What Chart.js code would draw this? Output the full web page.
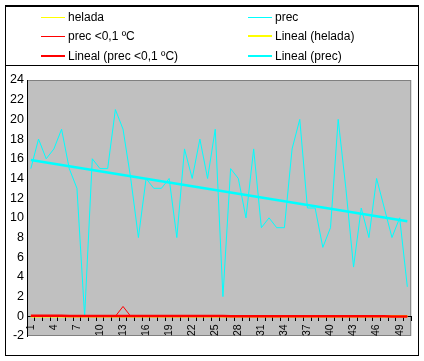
<!DOCTYPE html>
<html><head><meta charset="utf-8">
<script src="https://cdn.jsdelivr.net/npm/chart.js@4.4.1/dist/chart.umd.min.js"></script>
<style>html,body{margin:0;padding:0;background:#fff;}canvas{display:block;}</style>
</head><body>
<canvas id="c" width="424" height="361"></canvas>
<script>
// ---- data ----
const categories = [1,2,3,4,5,6,7,8,9,10,11,12,13,14,15,16,17,18,19,20,21,22,23,24,25,26,27,28,29,30,31,32,33,34,35,36,37,38,39,40,41,42,43,44,45,46,47,48,49,50];
const helada = [0,0,0,0,0,0,0,0,0,0,0,0,0,0,0,0,0,0,0,0,0,0,0,0,0,0,0,0,0,0,0,0,0,0,0,0,0,0,0,0,0,0,0,0,0,0,0,0,0,0];
const prec = [15,18,16,17,19,15,13,0,16,15,15,21,19,14,8,14,13,13,14,8,17,14,18,14,19,2,15,14,10,17,9,10,9,9,17,20,11,11,7,9,20,13,5,11,8,14,11,8,10,3];
const precBajo01 = [0,0,0,0,0,0,0,0,0,0,0,0,1,0,0,0,0,0,0,0,0,0,0,0,0,0,0,0,0,0,0,0,0,0,0,0,0,0,0,0,0,0,0,0,0,0,0,0,0,0];
const yMin = -2, yMax = 24, yStep = 2;
const xLabelEvery = 3;
const seriesNames = ['helada','prec','prec <0,1 ºC','Lineal (helada)','Lineal (prec <0,1 ºC)','Lineal (prec)'];

// Excel-style linear trendline (least squares)
function linearTrend(v){
  const n=v.length; let sx=0,sy=0,sxx=0,sxy=0;
  for(let i=0;i<n;i++){const x=i+1;sx+=x;sy+=v[i];sxx+=x*x;sxy+=x*v[i];}
  const b=(n*sxy-sx*sy)/(n*sxx-sx*sx), a=(sy-b*sx)/n;
  return v.map((_,i)=>a+b*(i+1));
}

const FONT='"Liberation Sans", Arial, sans-serif';

const bgPlugin={
  id:'bg',
  beforeDraw(chart){
    const {ctx,chartArea:a}=chart;
    ctx.save();
    ctx.fillStyle='#fff';ctx.fillRect(0,0,chart.width,chart.height);
    ctx.fillStyle='#C0C0C0';ctx.fillRect(a.left,a.top,a.right-a.left,a.bottom-a.top);
    ctx.strokeStyle='#808080';ctx.lineWidth=1;
    ctx.strokeRect(a.left+0.5,a.top+0.5,a.right-a.left-1,a.bottom-a.top-1);
    ctx.restore();
  },
  afterDraw(chart){
    const ctx=chart.ctx;
    ctx.save();
    ctx.strokeStyle='#000';ctx.lineWidth=1;
    ctx.strokeRect(5.5,5.5,413,350);
    ctx.beginPath();ctx.moveTo(5,65.5);ctx.lineTo(419,65.5);ctx.stroke();
    ctx.beginPath();ctx.moveTo(5,6.5);ctx.lineTo(419,6.5);ctx.stroke();
    // legend (2 columns x 3 rows)
    const cols=[{lx:41,tx:68},{lx:248,tx:275}];
    const rows=[21,40,59.5];
    ctx.font='12px '+FONT;ctx.fillStyle='#000';ctx.textBaseline='alphabetic';ctx.textAlign='left';
    chart.data.datasets.forEach((ds,i)=>{
      const c=cols[i%2], r=rows[Math.floor(i/2)];
      ctx.strokeStyle=ds.borderColor;
      const thick=ds.borderWidth>1;
      ctx.lineWidth=thick?2:1;
      const ly=Math.round(r-4)+(thick?0:0.5);
      ctx.beginPath();ctx.moveTo(c.lx,ly);ctx.lineTo(c.lx+24,ly);ctx.stroke();
      ctx.fillText(ds.label,c.tx,r);
    });
    ctx.restore();
  }
};

const common={pointRadius:0,pointHoverRadius:0,tension:0,fill:false};
new Chart(document.getElementById('c'),{
  type:'line',
  data:{
    labels:categories,
    datasets:[
      {...common,label:seriesNames[0],data:helada,borderColor:'#FFFF00',borderWidth:1,order:6},
      {...common,label:seriesNames[1],data:prec,borderColor:'#00FFFF',borderWidth:1,order:5},
      {...common,label:seriesNames[2],data:precBajo01,borderColor:'#FF0000',borderWidth:1,order:4},
      {...common,label:seriesNames[3],data:linearTrend(helada),borderColor:'#FFFF00',borderWidth:2.5,order:3},
      {...common,label:seriesNames[4],data:linearTrend(precBajo01),borderColor:'#FF0000',borderWidth:2.5,order:2},
      {...common,label:seriesNames[5],data:linearTrend(prec),borderColor:'#00FFFF',borderWidth:2.5,order:1}
    ]
  },
  options:{
    responsive:false,animation:false,
    layout:{padding:{left:5,right:6,top:80,bottom:25}},
    plugins:{legend:{display:false},tooltip:{enabled:false}},
    scales:{
      x:{
        type:'category',offset:true,
        position:{y:0},
        grid:{display:true,drawOnChartArea:false,drawTicks:true,tickLength:4,offset:true,color:'#000',lineWidth:1},
        border:{display:true,color:'#000',width:1},
        ticks:{autoSkip:false,maxRotation:90,minRotation:90,padding:4,color:'#000',font:{family:FONT,size:10.5},
          callback:(v,i)=> i%xLabelEvery===0 ? String(categories[i]) : ''}
      },
      y:{
        min:yMin,max:yMax,
        grid:{display:true,drawOnChartArea:false,drawTicks:false},
        border:{display:true,color:'#000',width:1},
        ticks:{stepSize:yStep,padding:3,color:'#000',font:{family:FONT,size:12.5}},
        afterFit(s){s.width=22;}
      }
    }
  },
  plugins:[bgPlugin]
});
</script>
</body></html>
